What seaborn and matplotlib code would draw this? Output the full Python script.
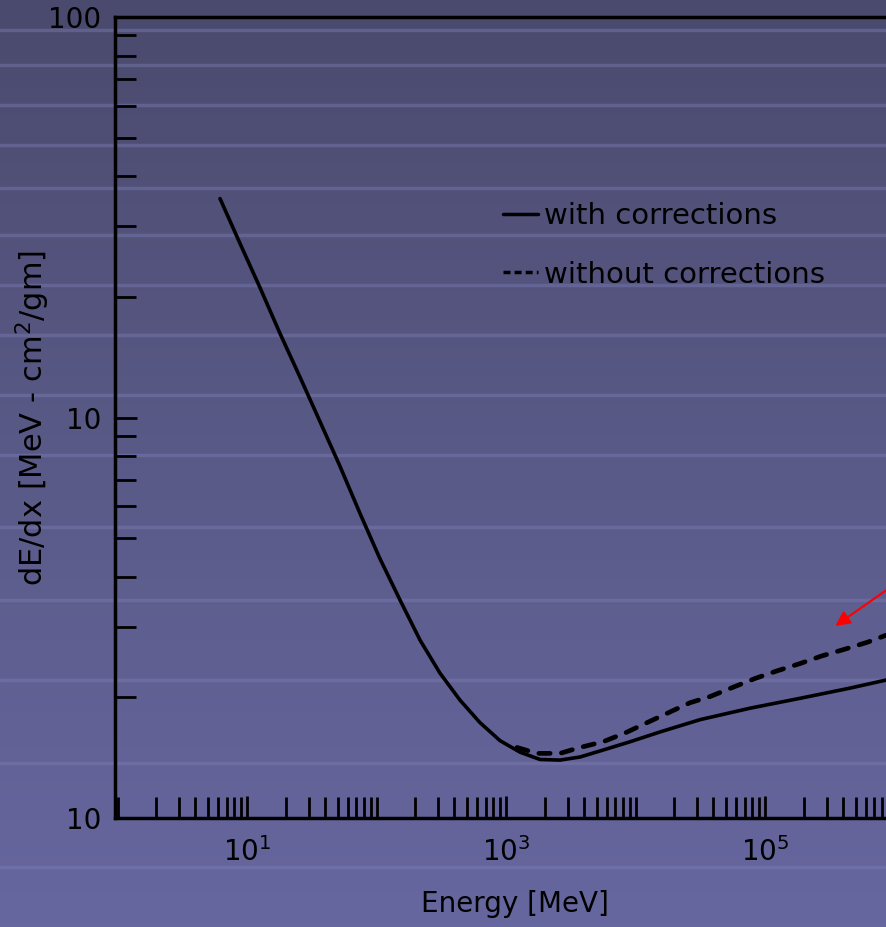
import numpy as np
import pandas as pd
import matplotlib.pyplot as plt
import matplotlib.ticker as mticker
from matplotlib.colors import LinearSegmentedColormap
from matplotlib.lines import Line2D
import seaborn as sns

# Energy loss curve
energy_solid = [6.19, 8.83, 12.6, 18.0, 25.7, 36.6, 52.3, 74.6, 106, 152, 217, 309,
                441, 630, 899, 1283, 1830, 2612, 3727, 5320, 9070, 15460, 31490,
                76610, 186400, 453400, 860000]
dedx_solid = [35.2, 27.2, 21.1, 16.2, 12.6, 9.77, 7.55, 5.76, 4.45, 3.50, 2.78, 2.30,
              1.97, 1.73, 1.56, 1.46, 1.40, 1.395, 1.42, 1.47, 1.55, 1.64, 1.76,
              1.88, 1.99, 2.11, 2.21]

energy_dashed = [1216, 1736, 2612, 3727, 5611, 8298, 12270, 17820, 26350, 37610, 56600,
                 83720, 123800, 186400, 275600, 414800, 624400, 860000]
dedx_dashed = [1.50, 1.45, 1.45, 1.50, 1.55, 1.63, 1.73, 1.83, 1.94, 2.01, 2.12,
               2.23, 2.33, 2.43, 2.54, 2.64, 2.75, 2.86]

xtick_vals = [1e1, 1e3, 1e5]
xtick_labels = ['$10^1$', '$10^3$', '$10^5$']
ytick_vals = [1, 10, 100]
ytick_labels = ['10', '10', '100']

solid = pd.DataFrame({'energy': energy_solid, 'dedx': dedx_solid})
dashed = pd.DataFrame({'energy': energy_dashed, 'dedx': dedx_dashed})

sns.set_style('ticks')
plt.rcParams['font.family'] = ['DejaVu Sans']

W, H = 886, 927
fig = plt.figure(figsize=(W / 100, H / 100), dpi=100)

# slide background: dark slate gradient with lighter horizontal bands
bg = fig.add_axes([0, 0, 1, 1], zorder=-10)
cmap = LinearSegmentedColormap.from_list('slide', ['#4a4a6e', '#5a5a88', '#6767a0'])
grad = np.linspace(0, 1, 256).reshape(-1, 1)
bg.imshow(grad, aspect='auto', cmap=cmap, extent=[0, 1, 0, 1], origin='upper')
for yb in [30, 65, 105, 145, 188, 235, 285, 335, 395, 455, 527, 600, 680, 763, 867]:
    bg.axhline(1 - yb / H, color='#8080b8', lw=2.5, alpha=0.4)
bg.set_xlim(0, 1)
bg.set_ylim(0, 1)
bg.axis('off')

x0, x1, y0, y1 = 115, 886, 17, 818
ax = fig.add_axes([x0 / W, 1 - y1 / H, (x1 - x0) / W, (y1 - y0) / H])
ax.patch.set_alpha(0)

sns.lineplot(data=solid, x='energy', y='dedx', ax=ax, color='black', lw=2.6,
             estimator=None, sort=False)
sns.lineplot(data=dashed, x='energy', y='dedx', ax=ax, color='black', lw=3.4,
             estimator=None, sort=False)
ax.lines[-1].set_dashes((2.4, 2.4))
ax.lines[-1].set_dash_capstyle('round')

ax.set_xscale('log')
ax.set_yscale('log')
ax.set_xlim(10 ** (-2.5 / 129.5), 10 ** ((886 - 117.5) / 129.5))
ax.set_ylim(1, 100)

ax.xaxis.set_major_locator(mticker.FixedLocator(xtick_vals))
ax.xaxis.set_major_formatter(mticker.FixedFormatter(xtick_labels))
ax.xaxis.set_minor_locator(mticker.LogLocator(base=10, subs=np.arange(1, 10), numticks=50))
ax.xaxis.set_minor_formatter(mticker.NullFormatter())
ax.yaxis.set_major_locator(mticker.FixedLocator(ytick_vals))
ax.yaxis.set_major_formatter(mticker.FixedFormatter(ytick_labels))
ax.yaxis.set_minor_locator(mticker.LogLocator(base=10, subs=np.arange(2, 10), numticks=50))
ax.yaxis.set_minor_formatter(mticker.NullFormatter())

ax.tick_params(axis='both', which='both', direction='in', color='black', width=2,
               labelsize=20, labelcolor='black')
ax.tick_params(axis='both', which='major', length=16)
ax.tick_params(axis='both', which='minor', length=15)
ax.tick_params(axis='x', which='major', pad=14)
ax.tick_params(axis='y', which='major', pad=10)

for side in ['left', 'bottom', 'top']:
    ax.spines[side].set_color('black')
    ax.spines[side].set_linewidth(2.5)
ax.spines['right'].set_visible(False)

ax.set_xlabel('Energy [MeV]', fontsize=20, color='black')
ax.set_ylabel('dE/dx [MeV - cm$^2$/gm]', fontsize=22, color='black')
ax.xaxis.set_label_coords((515 - x0) / (x1 - x0), -(890 - y1) / (y1 - y0))
ax.yaxis.set_label_coords(-(x0 - 52) / (x1 - x0), (y1 - 418) / (y1 - y0))

handles = [Line2D([], [], color='black', lw=2.5),
           Line2D([], [], color='black', lw=2.5, dashes=(2, 1.2))]
ax.legend(handles, ['with corrections', 'without corrections'], loc='upper left',
          bbox_to_anchor=((503 - x0) / (x1 - x0), (y1 - 202) / (y1 - y0)),
          frameon=False, fontsize=21, handlelength=1.2, handletextpad=0.2,
          labelspacing=1.05, borderaxespad=0, borderpad=0, labelcolor='black')

ax.annotate('', xy=(3.35e5, 2.99), xycoords='data',
            xytext=(1.01, (y1 - 585) / (y1 - y0)), textcoords='axes fraction',
            arrowprops=dict(arrowstyle='-|>', color='red', lw=1.5, mutation_scale=22),
            annotation_clip=False)

fig.savefig('out.png', dpi=100)
